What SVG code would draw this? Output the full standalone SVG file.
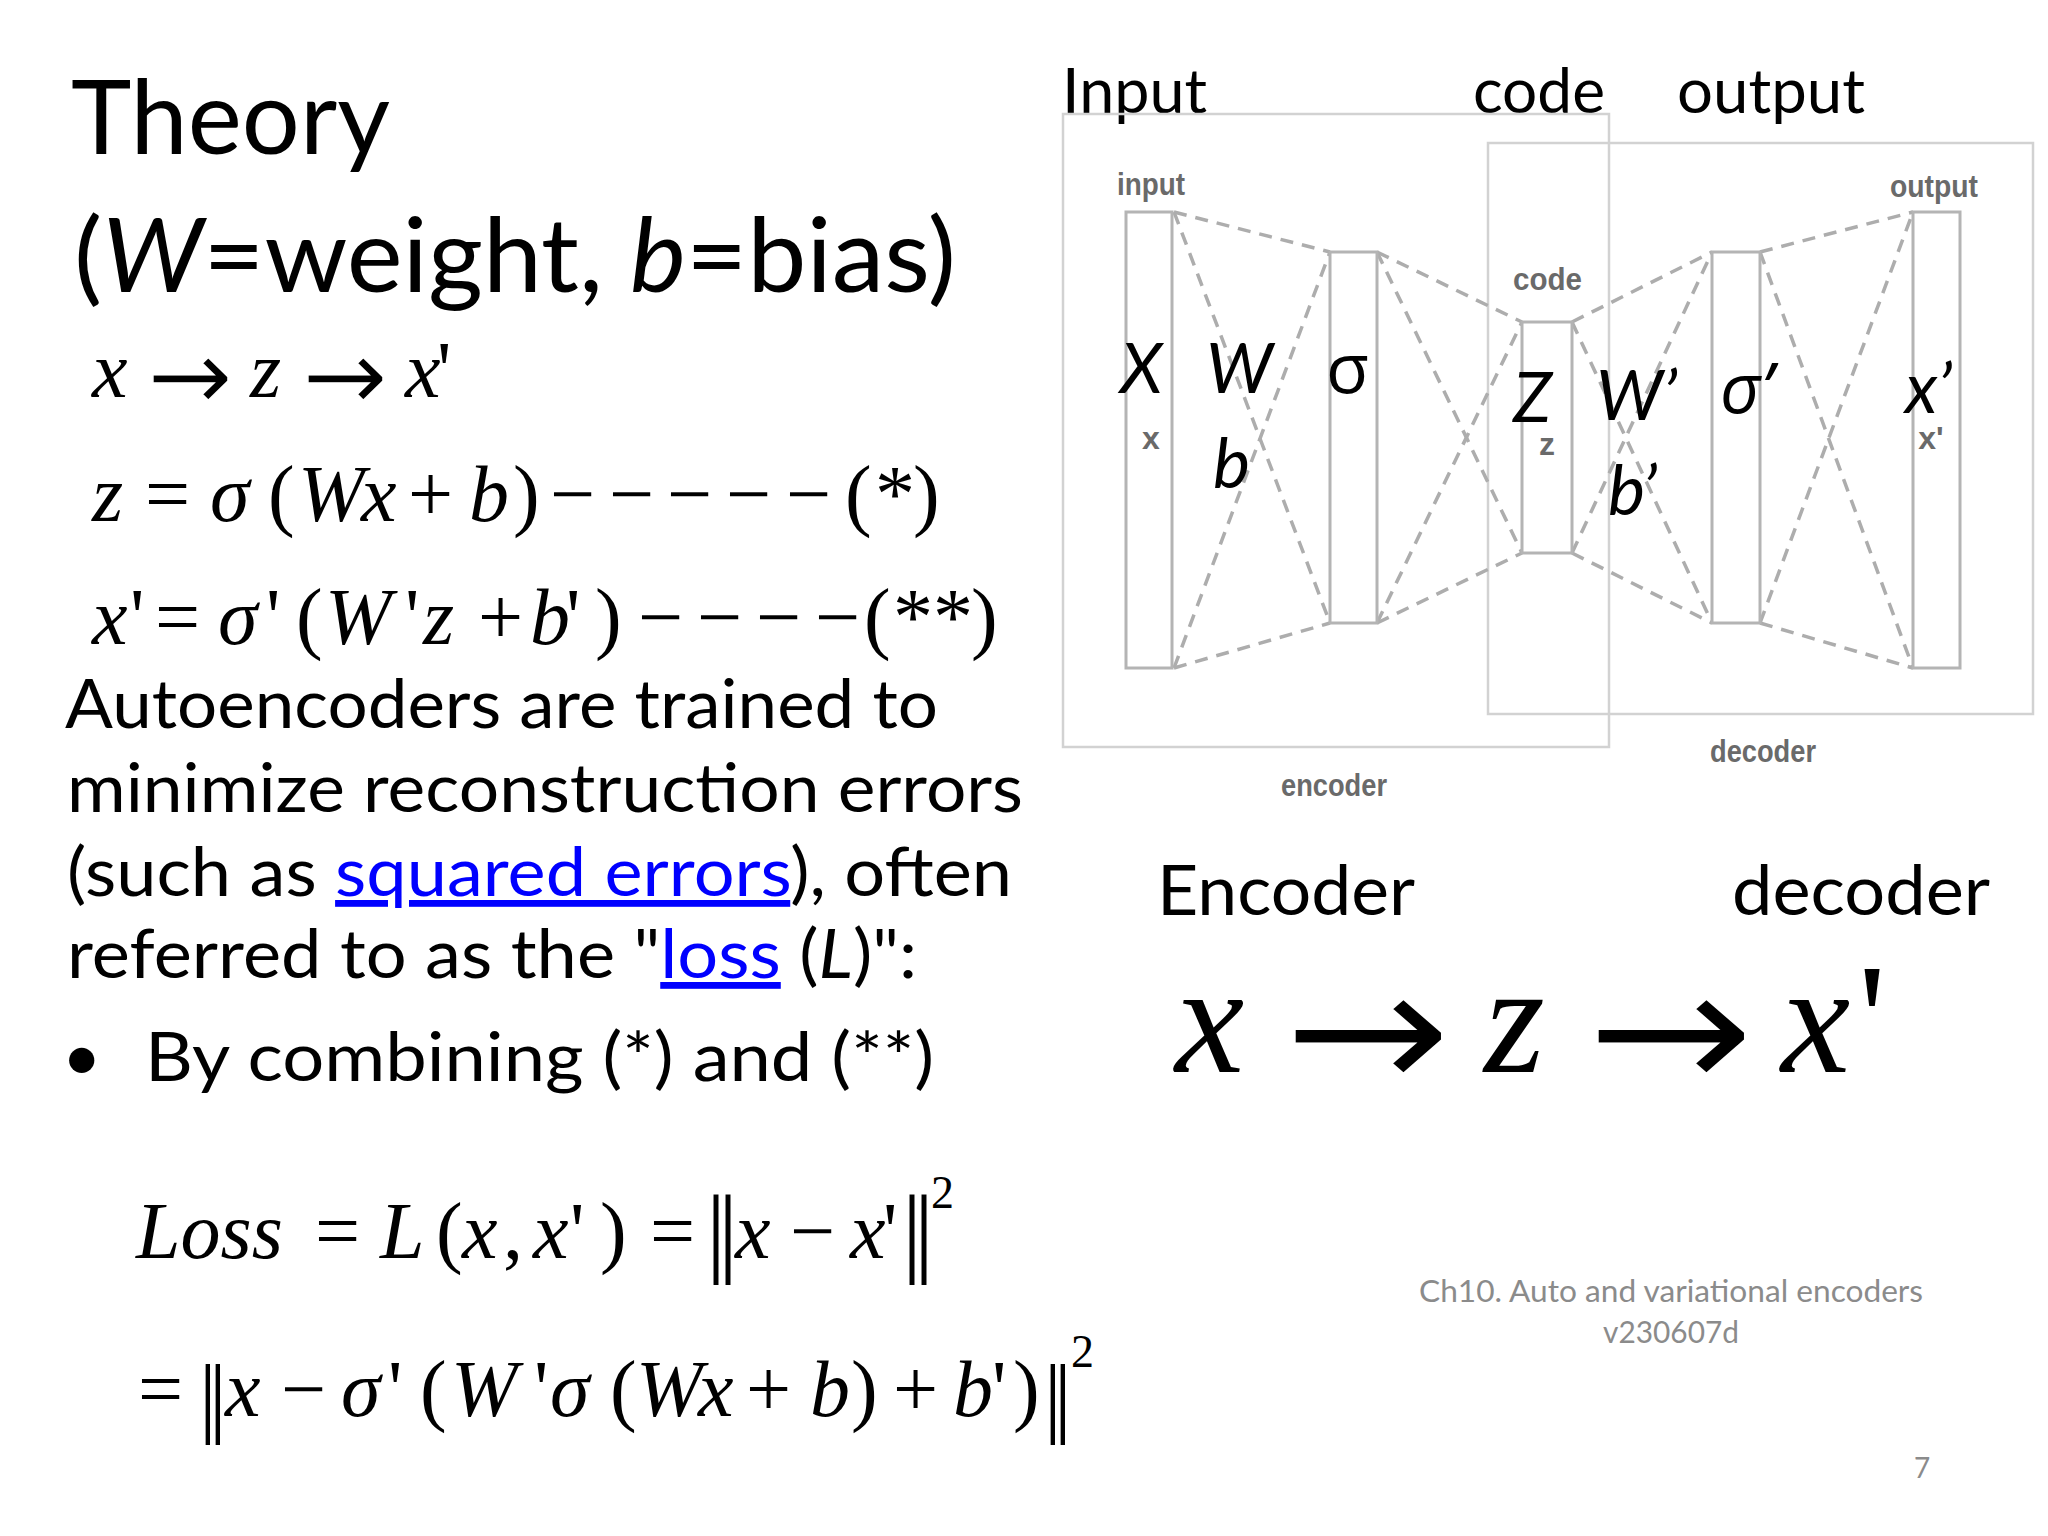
<svg xmlns="http://www.w3.org/2000/svg" width="2048" height="1536" viewBox="0 0 2048 1536">
<style>
.sans{font-family:Lato,"Open Sans","Noto Sans",sans-serif;fill:#000}
.greek{font-family:"Open Sans","Noto Sans",sans-serif;fill:#000}
.m{font-family:"Liberation Serif","DejaVu Serif",serif;fill:#000}
.arr{font-family:"DejaVu Sans",sans-serif;fill:#000;stroke:#fff;paint-order:normal}
.i{font-style:italic}
.link{fill:#0000ff;text-decoration:underline}
.col{fill:#fff;stroke:#b4b4b4;stroke-width:3}
.box{fill:none;stroke:#d2d2d2;stroke-width:2.5}
.dash{stroke:#adadad;stroke-width:3.5;stroke-dasharray:13 9;fill:none}
.small{font-family:"Liberation Sans",Arial,sans-serif;font-weight:bold;fill:#6a6a6a;font-size:32px}
.foot{font-family:Lato,"Open Sans",sans-serif;fill:#8b8b8b}
</style>
<rect width="2048" height="1536" fill="#fff"/>

<!-- Left column text -->
<g id="title">
<text class="sans" x="71" y="154" font-size="103" textLength="319" lengthAdjust="spacingAndGlyphs">Theory</text>
<text class="sans" x="74" y="292" font-size="103" textLength="882" lengthAdjust="spacingAndGlyphs">(<tspan class="i">W</tspan>=weight, <tspan class="i">b</tspan>=bias)</text>
</g>

<g id="eq1" class="m" font-size="80">
<text y="397"><tspan class="i" x="92">x</tspan><tspan class="i" x="250">z</tspan><tspan class="i" x="405">x</tspan><tspan x="437">'</tspan></text>
<text class="arr" x="147" y="410" font-size="100" stroke-width="1.5" textLength="86" lengthAdjust="spacingAndGlyphs">→</text>
<text class="arr" x="302" y="410" font-size="100" stroke-width="1.5" textLength="86" lengthAdjust="spacingAndGlyphs">→</text>
</g>
<g id="eq2" class="m" font-size="80">
<text y="521"><tspan class="i" x="92">z</tspan><tspan x="145">=</tspan><tspan class="i" x="210">σ</tspan><tspan x="268">(</tspan><tspan class="i" x="298">W</tspan><tspan class="i" x="361">x</tspan><tspan x="408">+</tspan><tspan class="i" x="469">b</tspan><tspan x="513">)</tspan><tspan x="550">−</tspan><tspan x="609">−</tspan><tspan x="667">−</tspan><tspan x="726">−</tspan><tspan x="786">−</tspan><tspan x="845">(</tspan><tspan x="875">*</tspan><tspan x="913">)</tspan></text>
</g>
<g id="eq3" class="m" font-size="80">
<text y="644"><tspan class="i" x="92">x</tspan><tspan x="130">'</tspan><tspan x="155">=</tspan><tspan class="i" x="218">σ</tspan><tspan x="266">'</tspan><tspan x="296">(</tspan><tspan class="i" x="325">W</tspan><tspan x="405">'</tspan><tspan class="i" x="423">z</tspan><tspan x="478">+</tspan><tspan class="i" x="530">b</tspan><tspan x="566">'</tspan><tspan x="595">)</tspan><tspan x="638">−</tspan><tspan x="697">−</tspan><tspan x="756">−</tspan><tspan x="815">−</tspan><tspan x="864">(</tspan><tspan x="893">**</tspan><tspan x="971">)</tspan></text>
</g>

<g id="body" class="sans" font-size="68">
<text x="65" y="728" textLength="873" lengthAdjust="spacingAndGlyphs">Autoencoders are trained to</text>
<text x="67" y="812" textLength="956" lengthAdjust="spacingAndGlyphs">minimize reconstruction errors</text>
<text x="67" y="896" textLength="945" lengthAdjust="spacingAndGlyphs">(such as <tspan class="link">squared errors</tspan>), often</text>
<text x="67" y="978" textLength="850" lengthAdjust="spacingAndGlyphs">referred to as the "<tspan class="link">loss</tspan> (<tspan class="i">L</tspan>)":</text>
<text x="62" y="1081">•</text>
<text x="145" y="1081" textLength="789" lengthAdjust="spacingAndGlyphs">By combining (*) and (**)</text>
</g>

<g id="loss1" class="m" font-size="80">
<text y="1258"><tspan class="i" x="136">Loss</tspan><tspan x="315">=</tspan><tspan class="i" x="380">L</tspan><tspan x="436">(</tspan><tspan class="i" x="462">x</tspan><tspan x="503">,</tspan><tspan class="i" x="533">x</tspan><tspan x="570">'</tspan><tspan x="600">)</tspan><tspan x="650">=</tspan></text>
<text x="706" y="1264" font-size="100" letter-spacing="-8">||</text>
<text y="1258"><tspan class="i" x="735">x</tspan><tspan x="790">−</tspan><tspan class="i" x="850">x</tspan><tspan x="883">'</tspan></text>
<text x="902" y="1264" font-size="100" letter-spacing="-8">||</text>
<text x="931" y="1208" font-size="46">2</text>
</g>
<g id="loss2" class="m" font-size="80">
<text x="138" y="1416">=</text>
<text x="199" y="1426" font-size="88" letter-spacing="-7.6">||</text>
<text y="1416"><tspan class="i" x="225">x</tspan><tspan x="281">−</tspan><tspan class="i" x="341">σ</tspan><tspan x="388">'</tspan><tspan x="420">(</tspan><tspan class="i" x="451">W</tspan><tspan x="534">'</tspan><tspan class="i" x="550">σ</tspan><tspan x="610">(</tspan><tspan class="i" x="636">W</tspan><tspan class="i" x="698">x</tspan><tspan x="746">+</tspan><tspan class="i" x="810">b</tspan><tspan x="851">)</tspan><tspan x="893">+</tspan><tspan class="i" x="953">b</tspan><tspan x="992">'</tspan><tspan x="1013">)</tspan></text>
<text x="1044" y="1426" font-size="88" letter-spacing="-7.6">||</text>
<text x="1071" y="1367" font-size="46">2</text>
</g>

<!-- Network diagram -->
<g id="top-labels" class="sans" font-size="61">
<text x="1062" y="113" textLength="145" lengthAdjust="spacingAndGlyphs">Input</text>
<text x="1473" y="113" textLength="132" lengthAdjust="spacingAndGlyphs">code</text>
<text x="1677" y="113" textLength="188" lengthAdjust="spacingAndGlyphs">output</text>
</g>

<g id="encoder-box"><rect class="box" x="1063" y="114" width="546" height="633"/>
<text class="small" x="1281" y="796" textLength="106" lengthAdjust="spacingAndGlyphs">encoder</text></g>
<g id="decoder-box"><rect class="box" x="1488" y="143" width="545" height="571"/>
<text class="small" x="1710" y="762" textLength="106" lengthAdjust="spacingAndGlyphs">decoder</text></g>

<g id="connectors" class="dash">
<line x1="1174" y1="212" x2="1330" y2="252"/>
<line x1="1174" y1="668" x2="1330" y2="623"/>
<line x1="1174" y1="212" x2="1330" y2="623"/>
<line x1="1174" y1="668" x2="1330" y2="252"/>
<line x1="1377" y1="252" x2="1522" y2="322"/>
<line x1="1377" y1="623" x2="1522" y2="553"/>
<line x1="1377" y1="252" x2="1522" y2="553"/>
<line x1="1377" y1="623" x2="1522" y2="322"/>
<line x1="1572" y1="322" x2="1712" y2="252"/>
<line x1="1572" y1="553" x2="1712" y2="623"/>
<line x1="1572" y1="322" x2="1712" y2="623"/>
<line x1="1572" y1="553" x2="1712" y2="252"/>
<line x1="1760" y1="252" x2="1913" y2="212"/>
<line x1="1760" y1="623" x2="1913" y2="668"/>
<line x1="1760" y1="252" x2="1913" y2="668"/>
<line x1="1760" y1="623" x2="1913" y2="212"/>
</g>

<g id="input-layer"><rect class="col" x="1126" y="212" width="46" height="456"/>
<text class="small" x="1117" y="195" textLength="68" lengthAdjust="spacingAndGlyphs">input</text>
<text class="small" x="1151" y="449" text-anchor="middle" font-size="36">x</text></g>
<g id="hidden-encoder"><rect class="col" x="1330" y="252" width="47" height="371"/></g>
<g id="code-layer"><rect class="col" x="1522" y="322" width="50" height="231"/>
<text class="small" x="1513" y="290" textLength="69" lengthAdjust="spacingAndGlyphs">code</text>
<text class="small" x="1547" y="455" text-anchor="middle" font-size="32">z</text></g>
<g id="hidden-decoder"><rect class="col" x="1712" y="252" width="48" height="371"/></g>
<g id="output-layer"><rect class="col" x="1913" y="212" width="47" height="456"/>
<text class="small" x="1890" y="197" textLength="88" lengthAdjust="spacingAndGlyphs">output</text>
<text class="small" x="1931" y="449" text-anchor="middle" font-size="36">x'</text></g>

<g id="overlay-labels" font-size="70">
<text class="sans i" x="1120" y="393">X</text>
<text class="sans i" x="1206" y="393">W</text>
<text class="greek" x="1326" y="393">σ</text>
<text class="sans i" x="1213" y="488">b</text>
<text class="sans i" x="1513" y="422">Z</text>
<text class="sans i" x="1596" y="420">W’</text>
<text class="greek i" x="1720" y="413">σ’</text>
<text class="sans i" x="1608" y="515">b’</text>
<text class="sans i" x="1905" y="413">x’</text>
</g>

<g id="enc-dec" class="sans" font-size="70">
<text x="1157" y="915" textLength="258" lengthAdjust="spacingAndGlyphs">Encoder</text>
<text x="1732" y="915" textLength="258" lengthAdjust="spacingAndGlyphs">decoder</text>
</g>

<g id="big-eq" class="m" font-size="156">
<text y="1072"><tspan class="i" x="1175">x</tspan><tspan class="i" x="1484">z</tspan><tspan class="i" x="1781">x</tspan><tspan x="1858">'</tspan></text>
<text class="arr" x="1283" y="1091" font-size="175" stroke-width="2" textLength="169" lengthAdjust="spacingAndGlyphs">→</text>
<text class="arr" x="1586" y="1091" font-size="175" stroke-width="2" textLength="169" lengthAdjust="spacingAndGlyphs">→</text>
</g>

<g id="footer" class="foot">
<text x="1671" y="1302" font-size="31" text-anchor="middle" textLength="504" lengthAdjust="spacingAndGlyphs">Ch10. Auto and variational encoders</text>
<text x="1671" y="1343" font-size="31" text-anchor="middle" textLength="136" lengthAdjust="spacingAndGlyphs">v230607d</text>
<text x="1914" y="1478" font-size="28">7</text>
</g>
</svg>
